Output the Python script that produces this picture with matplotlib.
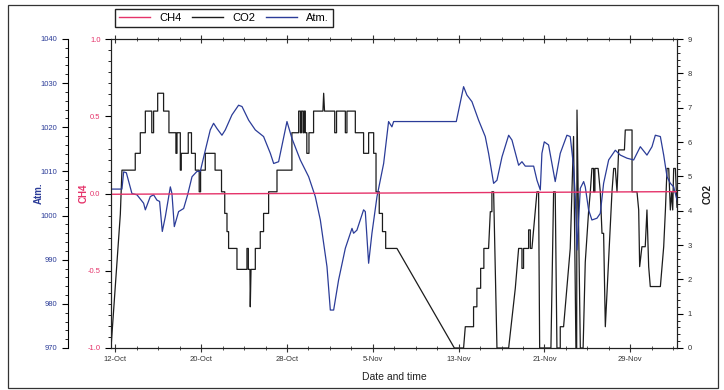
import numpy as np
import matplotlib
matplotlib.use("Agg")
import matplotlib.pyplot as plt
import matplotlib.dates as mdates
from matplotlib.ticker import MultipleLocator, FixedLocator, FuncFormatter, FormatStrFormatter, AutoMinorLocator
from matplotlib.patches import Rectangle
from matplotlib.lines import Line2D
from datetime import datetime

plt.rcParams['font.family'] = ['Liberation Sans', 'DejaVu Sans']

# data, days counted from 12-Oct 00:00
start = datetime(2015, 10, 12)

ch4_days = [-0.40, 25.0, 52.35]
ch4_vals = [-0.005, 0.003, 0.012]

atm_days = [-0.40, 0.62, 0.78, 1.03, 1.55, 2.02, 2.64, 2.80, 3.26, 3.57, 3.88, 4.13,
            4.38, 4.66, 5.13, 5.28, 5.50, 5.90, 6.37, 6.74, 7.15, 7.61, 7.92, 8.39,
            8.85, 9.16, 9.48, 9.94, 10.25, 10.87, 11.49, 11.81, 12.43, 13.05, 13.82,
            14.45, 14.76, 15.22, 16.00, 16.46, 17.24, 18.02, 18.64, 19.11, 19.73,
            20.04, 20.35, 20.81, 21.44, 22.06, 22.21, 22.52, 23.14, 23.30, 23.61,
            23.92, 24.39, 25.01, 25.47, 25.78, 25.94, 31.78, 32.46, 32.77, 33.24,
            33.86, 34.48, 34.79, 35.26, 35.57, 36.04, 36.66, 36.97, 37.59, 37.90,
            38.21, 38.99, 39.30, 39.61, 39.76, 39.98, 40.38, 41.00, 41.47, 42.09,
            42.40, 42.71, 42.87, 43.03, 43.34, 43.65, 43.80, 44.11, 44.42, 44.89,
            45.20, 45.51, 45.98, 46.60, 47.07, 47.69, 48.31, 48.93, 49.55, 50.02,
            50.33, 50.80, 51.11, 51.42, 51.73, 52.04, 52.35]
atm_vals = [1006.0, 1006.0, 1009.9, 1009.7, 1005.0, 1004.7, 1002.8, 1001.3, 1004.3,
            1004.7, 1003.5, 1003.2, 996.4, 999.7, 1006.5, 1005.0, 997.5, 1000.9,
            1001.6, 1004.7, 1008.8, 1010.0, 1010.0, 1014.8, 1019.4, 1020.9, 1019.7,
            1018.2, 1019.4, 1022.8, 1025.0, 1024.7, 1021.6, 1019.4, 1017.9, 1014.1,
            1011.8, 1012.2, 1021.3, 1017.5, 1012.6, 1008.8, 1004.3, 999.0, 988.4,
            978.6, 978.6, 985.4, 992.6, 997.1, 996.0, 996.7, 1001.3, 1000.9, 989.2,
            996.0, 1004.3, 1011.8, 1021.3, 1020.1, 1021.3, 1021.3, 1029.2, 1027.3,
            1025.8, 1021.6, 1017.9, 1014.1, 1007.3, 1008.0, 1013.3, 1018.2, 1017.1,
            1011.4, 1012.2, 1011.2, 1011.2, 1008.0, 1005.8, 1014.1, 1016.7, 1016.0,
            1007.7, 1014.1, 1018.2, 1017.9, 1011.1, 1004.3, 992.2, 1006.2, 1007.7,
            1006.5, 1001.3, 999.0, 999.4, 1000.5, 1007.3, 1012.6, 1014.8, 1013.7,
            1013.0, 1012.6, 1015.6, 1013.7, 1015.6, 1018.2, 1017.9, 1013.7, 1008.8,
            1007.3, 1006.5, 1003.5]

co2_days = [-0.40, 0.47, 0.62, 1.86, 1.86, 2.33, 2.33, 2.80, 2.80, 3.40, 3.40, 3.57,
            3.57, 3.95, 3.95, 4.50, 4.50, 5.00, 5.00, 5.65, 5.65, 5.75, 5.75, 6.06,
            6.06, 6.15, 6.15, 6.80, 6.80, 7.10, 7.10, 7.46, 7.46, 7.82, 7.82, 7.95,
            7.95, 8.39, 8.39, 9.30, 9.30, 9.90, 9.90, 10.20, 10.20, 10.41, 10.41,
            10.56, 10.56, 11.34, 11.34, 12.27, 12.27, 12.40, 12.40, 12.55, 12.58,
            12.65, 13.05, 13.05, 13.51, 13.51, 13.82, 13.82, 14.29, 14.29, 15.07,
            15.07, 16.46, 16.46, 17.09, 17.09, 17.25, 17.25, 17.35, 17.35, 17.50,
            17.50, 17.60, 17.60, 17.71, 17.71, 17.85, 17.85, 18.05, 18.05, 18.48,
            18.48, 19.35, 19.42, 19.50, 20.45, 20.45, 20.62, 20.62, 21.44, 21.44,
            21.59, 21.59, 22.37, 22.37, 23.14, 23.14, 23.61, 23.61, 24.08, 24.08,
            24.30, 24.30, 24.60, 24.60, 24.90, 24.90, 25.20, 25.20, 26.25, 31.60,
            32.46, 32.62, 33.39, 33.39, 33.70, 33.70, 34.05, 34.05, 34.35, 34.35,
            34.79, 34.95, 35.10, 35.10, 35.26, 35.57, 36.66, 37.28, 37.43, 37.59,
            37.90, 37.90, 38.05, 38.05, 38.52, 38.52, 38.68, 38.68, 38.83, 39.14,
            39.30, 39.45, 39.55, 40.60, 40.85, 41.00, 41.16, 41.47, 41.47, 41.78,
            42.25, 42.40, 42.56, 42.71, 42.93, 43.00, 43.03, 43.34, 43.60, 43.80,
            44.11, 44.27, 44.42, 44.58, 44.58, 44.70, 44.70, 45.00, 45.20, 45.36,
            45.51, 45.67, 46.29, 46.45, 46.60, 46.76, 46.91, 47.45, 47.53, 48.16,
            48.16, 48.62, 48.78, 48.87, 49.08, 49.39, 49.55, 49.71, 49.86, 50.80,
            50.95, 51.11, 51.27, 51.42, 51.58, 51.73, 51.85, 51.95, 52.04, 52.20,
            52.35]
co2_vals = [0.00, 3.90, 5.18, 5.18, 5.67, 5.67, 6.27, 6.27, 6.90, 6.90, 6.27, 6.27,
            6.90, 6.90, 7.42, 7.42, 6.90, 6.90, 6.27, 6.27, 5.67, 5.67, 6.27, 6.27,
            5.18, 5.18, 5.67, 5.67, 6.27, 6.27, 5.67, 5.67, 5.18, 5.18, 4.55, 4.55,
            5.18, 5.18, 5.67, 5.67, 5.18, 5.18, 4.55, 4.55, 3.92, 3.92, 3.39, 3.39,
            2.90, 2.90, 2.29, 2.29, 2.90, 2.90, 2.29, 2.29, 1.20, 2.29, 2.29, 2.90,
            2.90, 3.39, 3.39, 3.92, 3.92, 4.55, 4.55, 5.18, 5.18, 6.27, 6.27, 6.90,
            6.90, 6.27, 6.27, 6.90, 6.90, 6.27, 6.27, 6.90, 6.90, 6.27, 6.27, 5.67,
            5.67, 6.27, 6.27, 6.90, 6.90, 7.42, 6.90, 6.90, 6.27, 6.27, 6.90, 6.90,
            6.27, 6.27, 6.90, 6.90, 6.27, 6.27, 5.67, 5.67, 6.27, 6.27, 5.67, 5.67,
            4.55, 4.55, 3.92, 3.92, 3.39, 3.39, 2.90, 2.90, 0.00, 0.00, 0.62, 0.62,
            1.20, 1.20, 1.74, 1.74, 2.32, 2.32, 2.90, 2.90, 3.97, 3.97, 4.55, 4.55,
            0.00, 0.00, 1.74, 2.32, 2.90, 2.90, 2.32, 2.32, 2.90, 2.90, 3.44, 3.44,
            2.90, 2.90, 3.97, 4.55, 4.55, 0.00, 0.00, 4.55, 4.55, 0.00, 0.00, 0.62,
            0.62, 2.32, 2.90, 4.55, 6.16, 0.00, 0.00, 6.93, 0.00, 0.00, 2.50, 3.97,
            4.55, 5.23, 5.23, 4.55, 4.55, 5.23, 5.23, 4.55, 3.34, 3.34, 0.62, 4.55,
            5.23, 5.23, 4.55, 5.77, 5.77, 6.35, 6.35, 4.55, 4.55, 4.02, 2.37, 2.95,
            2.95, 4.02, 2.37, 1.79, 1.79, 2.37, 2.95, 4.02, 5.23, 5.23, 4.02, 4.55,
            4.02, 5.23, 5.23, 4.10]

base = mdates.date2num(start)
xlim = (base - 0.40, base + 52.35)

red = '#e5336a'
blue = '#2b3c98'
black = '#1c1c1c'

fig = plt.figure(figsize=(7.24, 3.90), dpi=100)
ax = fig.add_axes([111 / 724, 1 - 348 / 390, 566 / 724, 309 / 390])
ax_co2 = ax.twinx()
ax_atm = ax.twinx()

ax.set_zorder(3)
ax.patch.set_visible(False)
ax_atm.set_zorder(2)
ax_co2.set_zorder(1)

ax_co2.plot(base + np.array(co2_days), co2_vals, color=black, lw=0.9)
ax_atm.plot(base + np.array(atm_days), atm_vals, color=blue, lw=0.9)
ax.plot(base + np.array(ch4_days), ch4_vals, color=red, lw=1.0)

ax.set_xlim(*xlim)
ax.set_ylim(-1, 1)
ax_co2.set_ylim(0, 9)
ax_atm.set_ylim(970, 1040)

# x axis
ax.xaxis.set_major_locator(FixedLocator(base + np.arange(0, 56, 8)))
ax.xaxis.set_minor_locator(FixedLocator(base + np.arange(0, 54, 2)))
ax.xaxis.set_major_formatter(FuncFormatter(
    lambda v, p: f"{mdates.num2date(v).day}-{mdates.num2date(v):%b}"))
ax.tick_params(axis='x', which='both', direction='inout', top=True, labelsize=5.5,
               colors='#333333', pad=3)
ax.tick_params(axis='x', which='major', length=6, width=0.8)
ax.tick_params(axis='x', which='minor', length=3, width=0.6)
ax.set_xlabel('Date and time', fontsize=7.5, color='#222222', labelpad=6)

# CH4 axis
ax.yaxis.set_major_locator(MultipleLocator(0.5))
ax.yaxis.set_minor_locator(AutoMinorLocator(7))
ax.yaxis.set_major_formatter(FormatStrFormatter('%.1f'))
ax.tick_params(axis='y', which='both', direction='out', labelsize=5.5, labelcolor=red)
ax.tick_params(axis='y', which='major', length=4, width=0.8)
ax.tick_params(axis='y', which='minor', length=2, width=0.6)
ax.set_ylabel('CH4', fontsize=7, color=red, fontweight='bold', labelpad=-1)

# CO2 axis
ax_co2.yaxis.set_major_locator(MultipleLocator(1))
ax_co2.yaxis.set_minor_locator(MultipleLocator(0.2))
ax_co2.tick_params(axis='y', which='both', direction='out', labelsize=5.5, labelcolor='#333333')
ax_co2.tick_params(axis='y', which='major', length=4, width=0.8)
ax_co2.tick_params(axis='y', which='minor', length=2, width=0.6)
ax_co2.set_ylabel('CO2', fontsize=7, color=black, fontweight='bold', labelpad=8)

# Atm axis on a second left spine
for s in ['right', 'top', 'bottom']:
    ax_atm.spines[s].set_visible(False)
ax_atm.spines['left'].set_visible(True)
ax_atm.spines['left'].set_position(('axes', -0.076))
ax_atm.spines['left'].set_linewidth(0.8)
ax_atm.yaxis.set_ticks_position('left')
ax_atm.yaxis.set_label_position('left')
ax_atm.yaxis.set_major_locator(MultipleLocator(10))
ax_atm.yaxis.set_minor_locator(MultipleLocator(2))
ax_atm.tick_params(axis='y', which='both', direction='out', labelsize=5.5, labelcolor=blue)
ax_atm.tick_params(axis='y', which='major', length=4, width=0.8)
ax_atm.tick_params(axis='y', which='minor', length=2, width=0.6)
ax_atm.set_ylabel('Atm.', fontsize=7, color=blue, fontweight='bold', labelpad=-2)

for a in (ax, ax_co2):
    for s in a.spines.values():
        s.set_linewidth(0.8)
        s.set_color('#222222')

handles = [Line2D([], [], color=red, lw=1.0), Line2D([], [], color=black, lw=1.0),
           Line2D([], [], color=blue, lw=1.0)]
fig.legend(handles, ['CH4', 'CO2', 'Atm.'], loc='upper left',
           bbox_to_anchor=(115 / 724, 1 - 9 / 390), ncol=3, fontsize=8,
           frameon=True, fancybox=False, edgecolor='#222222', framealpha=1,
           handlelength=2.8, columnspacing=1.0, handletextpad=0.8,
           borderpad=0.35, borderaxespad=0)

fig.patches.append(Rectangle((8 / 724, 2 / 390), 710 / 724, 383 / 390,
                             transform=fig.transFigure, fill=False, lw=0.9,
                             ec='#333333'))

fig.savefig('out.png', dpi=100)
